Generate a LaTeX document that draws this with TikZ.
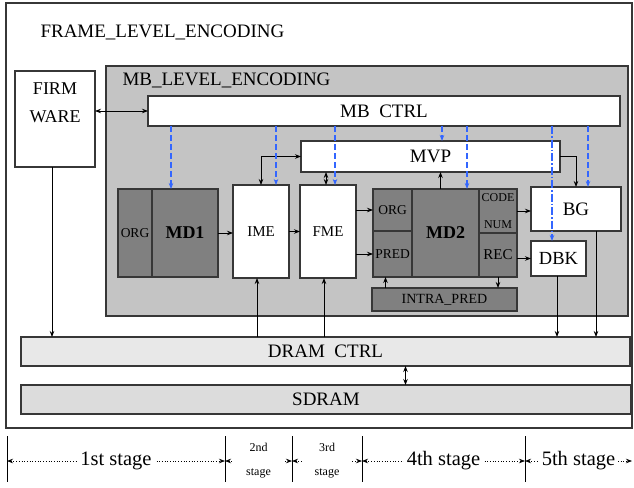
\documentclass[tikz,border=0pt]{standalone}
\usepackage{fontspec}
\setmainfont{Liberation Serif}
\usetikzlibrary{arrows.meta,positioning,calc}
\definecolor{ctrlblue}{RGB}{51,102,255}
\definecolor{mbgray}{RGB}{196,196,196}
\definecolor{mdgray}{RGB}{128,128,128}
\definecolor{dramgray}{RGB}{232,232,232}
\definecolor{sdramgray}{RGB}{220,220,220}
\definecolor{edge}{RGB}{55,55,55}

\begin{document}
\begin{tikzpicture}[
  x=1pt, y=-1pt,
  box/.style={rectangle, draw=edge, line width=1.2pt, inner sep=0pt, outer sep=0pt, align=center},
  whitebox/.style={box, fill=white},
  darkbox/.style={box, fill=mdgray},
  big/.style={font=\fontsize{19}{22}\selectfont},
  mid/.style={font=\fontsize{15}{18}\selectfont},
  small/.style={font=\fontsize{13.5}{16}\selectfont},
  bold/.style={font=\fontsize{18}{21}\selectfont\bfseries},
  arrow/.style={->, line width=0.8pt},
  ctrl/.style={->, ctrlblue, line width=1.1pt, dash pattern=on 6pt off 3pt},
  stagearrow/.style={<->, line width=0.7pt, dotted},
  stagelabel/.style={fill=white, inner xsep=3pt, inner ysep=1pt, align=center, font=\fontsize{20.5}{23}\selectfont},
  tinystage/.style={stagelabel, inner xsep=13pt, font=\fontsize{12}{24}\selectfont},
  >={Stealth[length=6pt,width=4.5pt]}
]
\useasboundingbox (0,0) rectangle (634,487);

% frame and MB level
\node[box, line width=1.5pt, minimum width=626, minimum height=425] (frame) at (319,215.5) {};
\node[big, anchor=west] (framelabel) at (37,32) {FRAME\_LEVEL\_ENCODING};
\node[box, fill=mbgray, minimum width=522, minimum height=250] (mb) at (367,191) {};
\node[big, anchor=west] (mblabel) at (119,80) {MB\_LEVEL\_ENCODING};

\node[whitebox, minimum width=80, minimum height=96] (fw) at (55,119) {};
\node[font=\fontsize{18}{28}\selectfont, align=center] (fwtext) at (55,103) {FIRM\\WARE};

\node[whitebox, big, minimum width=472, minimum height=30] (mbctrl) at (384,111) {MB\ \ CTRL};
\node[whitebox, big, minimum width=259, minimum height=31] (mvp) at (430.5,156.5) {MVP};

% pipeline blocks
\node[darkbox, small, minimum width=34, minimum height=88] (md1org) at (135,233) {ORG};
\node[darkbox, bold, minimum width=66, minimum height=88, right=0pt of md1org] (md1) {MD1};
\node[whitebox, mid, minimum width=56, minimum height=93] (ime) at (261,231.5) {IME};
\node[whitebox, mid, minimum width=56, minimum height=93, right=11 of ime] (fme) {FME};

\node[darkbox, small, minimum width=39, minimum height=42] (md2org) at (392.5,210) {ORG};
\node[darkbox, small, minimum width=39, minimum height=46, below=0pt of md2org] (md2pred) {PRED};
\node[darkbox, bold, minimum width=67, minimum height=88] (md2) at (445.5,233) {MD2};
\node[darkbox, font=\fontsize{12}{27}\selectfont, minimum width=38, minimum height=44] (md2code) at (498,211) {CODE\\NUM};
\node[darkbox, mid, minimum width=38, minimum height=44, below=0pt of md2code] (md2rec) {REC};
\node[darkbox, font=\fontsize{14}{16}\selectfont, minimum width=145, minimum height=23] (intra) at (444.5,299.5) {INTRA\_PRED};

\node[whitebox, big, minimum width=90, minimum height=44] (bg) at (576,209) {BG};
\node[whitebox, font=\fontsize{18.5}{21}\selectfont, minimum width=55, minimum height=35] (dbk) at (558.5,258.5) {DBK};

\node[box, fill=dramgray, big, minimum width=609, minimum height=29] (dram) at (325.5,351.5) {DRAM\ \ CTRL};
\node[box, fill=sdramgray, big, minimum width=610, minimum height=29] (sdram) at (326,399.5) {SDRAM};

% data paths
\draw[arrow, <->] (mbctrl.west -| fw.east) -- (mbctrl.west);
\draw[arrow] (md1.east) -- (ime.west |- md1.east);
\draw[arrow] (ime.east) -- (fme.west);
\draw[arrow] (fme.east |- md2org) -- (md2org.west);
\draw[arrow] (fme.east |- md2pred) -- (md2pred.west);
\draw[arrow, <->] (mvp.west) -| (ime.north);
\draw[arrow, <->] ([xshift=-2]fme.north) -- ([xshift=-2]fme.north |- mvp.south);
\draw[arrow] ([xshift=-5]md2.north) -- ([xshift=-5]md2.north |- mvp.south);
\draw[arrow] (mvp.east) -| (bg.north);
\draw[arrow] (md2code.east) -- (bg.west |- md2code.east);
\draw[arrow] (dbk.west -| md2rec.east) -- (dbk.west);
\draw[arrow] ([xshift=-7]md2pred.south |- intra.north) -- ([xshift=-7]md2pred.south);
\draw[arrow] (md2rec.south) -- (md2rec.south |- intra.north);

% memory paths
\draw[arrow] ([xshift=-3]fw.south) -- ([xshift=-3]fw.south |- dram.north);
\draw[arrow] ([xshift=-4]ime.south |- dram.north) -- ([xshift=-4]ime.south);
\draw[arrow] ([xshift=-4]fme.south |- dram.north) -- ([xshift=-4]fme.south);
\draw[arrow] ([xshift=-1.5]dbk.south) -- ([xshift=-1.5]dbk.south |- dram.north);
\draw[arrow] ([xshift=20]bg.south) -- ([xshift=20]bg.south |- dram.north);
\draw[arrow, <->] ([xshift=80]dram.south) -- ([xshift=80]dram.south |- sdram.north);

% control from MB CTRL
\draw[ctrl] ([xshift=-14]md1.north |- mbctrl.south) -- ([xshift=-14]md1.north);
\draw[ctrl] ([xshift=15]ime.north |- mbctrl.south) -- ([xshift=15]ime.north);
\draw[ctrl] ([xshift=7]fme.north |- mbctrl.south) -- ([xshift=7]fme.north);
\draw[ctrl] ([xshift=11.5]mvp.north |- mbctrl.south) -- ([xshift=11.5]mvp.north);
\draw[ctrl] ([xshift=21.5]md2.north |- mbctrl.south) -- ([xshift=21.5]md2.north);
\draw[ctrl, dash pattern=on 8pt off 2pt on 1.5pt off 2pt] ([xshift=-6.5]dbk.north |- mbctrl.south) -- ([xshift=-6.5]dbk.north);
\draw[ctrl] ([xshift=12]bg.north |- mbctrl.south) -- ([xshift=12]bg.north);

% pipeline stages
\foreach \x [count=\i from 0] in {7,225,292,362,525} {
  \draw[line width=0.9pt] (\x,436) -- (\x,482);
  \coordinate (t\i) at (\x,461);
}
\coordinate (tend) at (632,461);
\draw[stagearrow] (t0) -- node[stagelabel] (s1) {1st stage} (t1);
\draw[stagearrow] (t1) -- node[tinystage] (s2) {2nd\\stage} (t2);
\draw[stagearrow] (t2) -- node[tinystage] (s3) {3rd\\stage} (t3);
\draw[stagearrow] (t3) -- node[stagelabel] (s4) {4th stage} (t4);
\draw[stagearrow] (t4) -- node[stagelabel] (s5) {5th stage} (tend);

\end{tikzpicture}
\end{document}
